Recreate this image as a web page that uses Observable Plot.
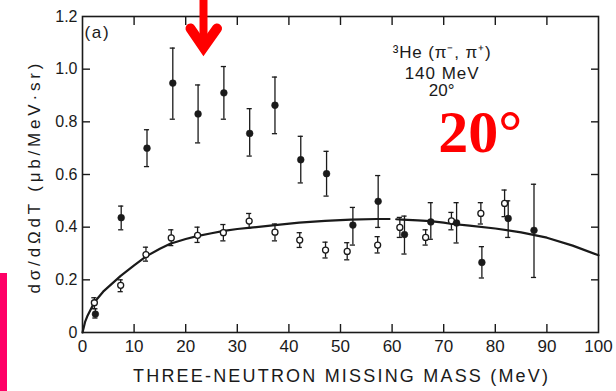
<!DOCTYPE html>
<html><head><meta charset="utf-8">
<script src="https://cdn.jsdelivr.net/npm/d3@7"></script>
<script src="https://cdn.jsdelivr.net/npm/@observablehq/plot@0.6"></script>
<style>
html,body{margin:0;padding:0;background:#fff;}
#wrap{position:relative;width:616px;height:391px;overflow:hidden;}
#pink{position:absolute;left:0;top:273px;width:7px;height:118px;background:#ff0066;}
</style></head><body>
<div id="wrap"><div id="chart"></div><div id="pink"></div></div>
<script>
// filled points (x, value, lower end of bar, upper end of bar)
const filledX  = [2.5, 7.5, 12.5, 17.5, 22.4, 27.4, 32.4, 37.3, 42.3, 47.3, 52.4, 57.3, 62.4, 67.5, 72.5, 77.4, 82.5, 87.5];
const filledY  = [0.07, 0.436, 0.70, 0.947, 0.83, 0.91, 0.756, 0.863, 0.656, 0.603, 0.408, 0.498, 0.372, 0.42, 0.416, 0.266, 0.433, 0.388];
const filledLo = [0.055, 0.39, 0.63, 0.81, 0.72, 0.81, 0.67, 0.755, 0.568, 0.518, 0.332, 0.399, 0.298, 0.354, 0.34, 0.207, 0.361, 0.209];
const filledHi = [0.09, 0.48, 0.77, 1.08, 0.94, 1.01, 0.85, 0.97, 0.745, 0.688, 0.475, 0.596, 0.442, 0.493, 0.493, 0.326, 0.50, 0.563];
// open points
const openX  = [2.3, 7.4, 12.3, 17.2, 22.3, 27.3, 32.3, 37.3, 42.1, 47.1, 51.3, 57.2, 61.5, 66.5, 71.5, 77.2, 81.8];
const openY  = [0.113, 0.179, 0.296, 0.359, 0.369, 0.379, 0.423, 0.381, 0.351, 0.313, 0.308, 0.332, 0.399, 0.361, 0.424, 0.452, 0.49];
const openLo = [0.091, 0.155, 0.271, 0.33, 0.342, 0.348, 0.397, 0.348, 0.323, 0.283, 0.276, 0.302, 0.361, 0.332, 0.39, 0.412, 0.44];
const openHi = [0.132, 0.20, 0.324, 0.39, 0.40, 0.41, 0.452, 0.412, 0.379, 0.343, 0.341, 0.364, 0.437, 0.39, 0.456, 0.493, 0.541];
// theory curve (null = gap in the drawn line)
const curveX = [0, 0.5, 1, 2.3, 4, 5.4, 7.4, 10, 12.4, 15, 17, 20, 22.2, 25, 27.4, 30, 32.6, 37.3, 42, 47, 52, 57, 59.5, 60, 60.8, 62, 65, 67.4, 70, 71.3, 75, 80, 85, 90, 95, 100];
const curveY = [0, 0.04, 0.065, 0.115, 0.155, 0.18, 0.215, 0.255, 0.29, 0.318, 0.337, 0.355, 0.366, 0.377, 0.386, 0.393, 0.398, 0.408, 0.417, 0.424, 0.429, 0.431, 0.431, null, 0.43, 0.429, 0.426, 0.423, 0.417, 0.413, 0.406, 0.395, 0.38, 0.36, 0.33, 0.293];
// ticks
const xTicks = [0, 10, 20, 30, 40, 50, 60, 70, 80, 90, 100];
const yTicks = [0, 0.2, 0.4, 0.6, 0.8, 1.0, 1.2];
// texts
const xTitle = "THREE-NEUTRON MISSING MASS (MeV)";
const yTitle = "dσ/dΩdT (μb/MeV·sr)";
const panelLabel = "(a)";
const annoText = ["³He (π⁻, π⁺)", "140 MeV", "20°"];
const annoX = [69.6, 69.6, 69.6];
const annoY = [1.062, 0.982, 0.917];
const redText = "20°";
const redX = 77.1, redY = 0.687;
// red arrow overlay
const arrowShaftX = [23.45, 23.45];
const arrowShaftY = [1.27, 1.09];
const arrowHeadX = [20.93, 23.45, 26.07];
const arrowHeadY = [1.1546, 1.0824, 1.1546];

const filled = filledX.map((x, i) => ({x, y: filledY[i], lo: filledLo[i], hi: filledHi[i]}));
const open = openX.map((x, i) => ({x, y: openY[i], lo: openLo[i], hi: openHi[i]}));
const all = filled.concat(open);
const curve = curveX.map((x, i) => ({x, y: curveY[i]}));
const anno = annoText.map((t, i) => ({t, x: annoX[i], y: annoY[i]}));
const shaft = arrowShaftX.map((x, i) => ({x, y: arrowShaftY[i]}));
const head = arrowHeadX.map((x, i) => ({x, y: arrowHeadY[i]}));

const ink = "#1a1a1a";
const red = "#ff0000";
const inner = yTicks.slice(1, -1);
const innerX = xTicks.slice(1, -1);

const svg = Plot.plot({
  width: 616, height: 391,
  marginLeft: 82, marginRight: 18, marginTop: 16, marginBottom: 59,
  x: {domain: [0, 100]},
  y: {domain: [0, 1.2]},
  style: {fontFamily: "'Liberation Sans', Arial, sans-serif", fontSize: "16px", color: ink, background: "transparent"},
  marks: [
    Plot.axisX({ticks: xTicks, tickSize: 0, tickPadding: 7, label: null, fontSize: 17, tickFormat: d => String(d)}),
    Plot.axisY({ticks: yTicks, tickSize: 0, tickPadding: 5, label: null, fontSize: 16, tickFormat: d => d === 0 ? "0" : d.toFixed(1)}),
    Plot.axisX({anchor: "bottom", ticks: innerX, tickSize: 8, dy: -8, fill: "none", strokeWidth: 1.4, label: null}),
    Plot.axisX({anchor: "top", ticks: innerX, tickSize: 8, dy: 8, fill: "none", strokeWidth: 1.4, label: null}),
    Plot.axisY({anchor: "left", ticks: inner, tickSize: 8, dx: 8, fill: "none", strokeWidth: 1.4, label: null}),
    Plot.axisY({anchor: "right", ticks: inner, tickSize: 8, dx: -8, fill: "none", strokeWidth: 1.4, label: null}),
    Plot.frame({stroke: ink, strokeWidth: 1.6}),
    Plot.line(curve, {x: "x", y: "y", stroke: ink, strokeWidth: 2.2}),
    Plot.ruleX(all, {x: "x", y1: "lo", y2: "hi", stroke: ink, strokeWidth: 1.3}),
    Plot.ruleY(all, {y: "lo", x1: d => d.x - 0.5, x2: d => d.x + 0.5, stroke: ink, strokeWidth: 1.3}),
    Plot.ruleY(all, {y: "hi", x1: d => d.x - 0.5, x2: d => d.x + 0.5, stroke: ink, strokeWidth: 1.3}),
    Plot.dot(open, {x: "x", y: "y", r: 3, fill: "white", stroke: ink, strokeWidth: 1.3}),
    Plot.dot(filled, {x: "x", y: "y", r: 3.4, fill: ink, stroke: ink, strokeWidth: 0.5}),
    Plot.text([panelLabel], {x: 0.4, y: 1.139, text: d => d, textAnchor: "start", fontSize: 17, fill: ink}),
    Plot.text(anno, {x: "x", y: "y", text: "t", fontSize: 17, fill: ink}),
    Plot.text([redText], {x: redX, y: redY, text: d => d, lineAnchor: "bottom", fontSize: 60, fontWeight: "bold", fontFamily: "'Liberation Serif', 'Times New Roman', serif", fill: red}),
    Plot.text([xTitle], {frameAnchor: "bottom", dy: 44, lineAnchor: "middle", textAnchor: "middle", text: d => d, fontSize: 18, fill: ink}),
    Plot.text([yTitle], {frameAnchor: "left", dx: -48, dy: 4, rotate: -90, lineAnchor: "middle", textAnchor: "middle", text: d => d, fontSize: 17, fill: ink}),
    Plot.line(shaft, {x: "x", y: "y", stroke: red, strokeWidth: 8, strokeLinecap: "butt"}),
    Plot.line(head, {x: "x", y: "y", stroke: red, strokeWidth: 10, strokeLinecap: "round", strokeLinejoin: "miter", strokeMiterlimit: 10})
  ]
});
document.getElementById("chart").appendChild(svg);

const lengths = {};
lengths[xTitle] = 415;
lengths[yTitle] = 230;
lengths[annoText[0]] = 98;
lengths[annoText[1]] = 74;
lengths[panelLabel] = 24;
d3.select(svg).selectAll("text").each(function() {
  const L = lengths[this.textContent];
  if (L) d3.select(this).attr("textLength", L).attr("lengthAdjust", "spacing");
});
</script>
</body></html>
